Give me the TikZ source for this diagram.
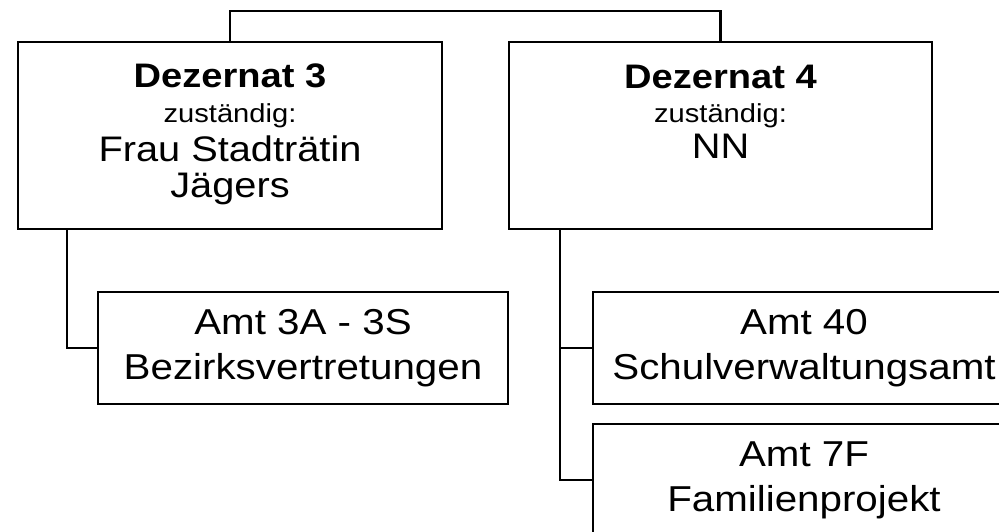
\documentclass[tikz,border=0pt]{standalone}
\usepackage{fontspec}
\setmainfont{Liberation Sans}[FakeStretch=1.12]
\usetikzlibrary{positioning}
\tikzstyle{every node}=[outer sep=0pt]
\tikzstyle{dezernat}=[draw,rectangle,minimum width=424pt,minimum height=187pt]
\tikzstyle{amt}=[draw,rectangle,minimum width=410pt,minimum height=112pt,align=center,font=\fontsize{36}{45}\selectfont]
\tikzstyle{kopf}=[anchor=base,inner sep=0pt,font=\fontsize{34}{40}\selectfont\bfseries]
\tikzstyle{zust}=[anchor=base,inner sep=0pt,font=\fontsize{26}{30}\selectfont]
\tikzstyle{person}=[anchor=base,inner sep=0pt,font=\fontsize{35.5}{40}\selectfont]

\begin{document}
\begin{tikzpicture}[x=1pt,y=-1pt,line width=2.9pt]
  \clip (0,0) rectangle (999,532);
  \node[dezernat] (dez3) at (230,135.5) {};
  \node[dezernat,minimum width=423pt] (dez4) [right=67pt of dez3] {};
  \node[amt] (amt3) [below right=63pt and 80pt of dez3.south west] {Amt 3A - 3S\\Bezirksvertretungen};
  \node[amt,minimum width=422pt] (amt40) [below right=63pt and 84pt of dez4.south west] {Amt 40\\Schulverwaltungsamt};
  \node[amt,minimum width=422pt] (amt7) [below=20pt of amt40] {Amt 7F\\Familienprojekt};

  \node[kopf]   (dez3kopf)    at ([yshift=-46pt]dez3.north)  {Dezernat 3};
  \node[zust]   (dez3zust)    at ([yshift=-81pt]dez3.north)  {zuständig:};
  \node[person] (dez3person)  at ([yshift=-119pt]dez3.north) {Frau Stadträtin};
  \node[person] (dez3person2) at ([yshift=-155pt]dez3.north) {Jägers};
  \node[kopf]   (dez4kopf)    at ([yshift=-47pt]dez4.north)  {Dezernat 4};
  \node[zust]   (dez4zust)    at ([yshift=-81pt]dez4.north)  {zuständig:};
  \node[person] (dez4person)  at ([yshift=-117pt]dez4.north) {NN};

  \draw (dez3.north) -- ++(0,-31) -| (dez4.north);
  \draw ([xshift=49pt]dez3.south west) |- (amt3.west);
  \draw ([xshift=51pt]dez4.south west) |- (amt40.west);
  \draw ([xshift=51pt]dez4.south west) |- (amt7.west);
\end{tikzpicture}
\end{document}
